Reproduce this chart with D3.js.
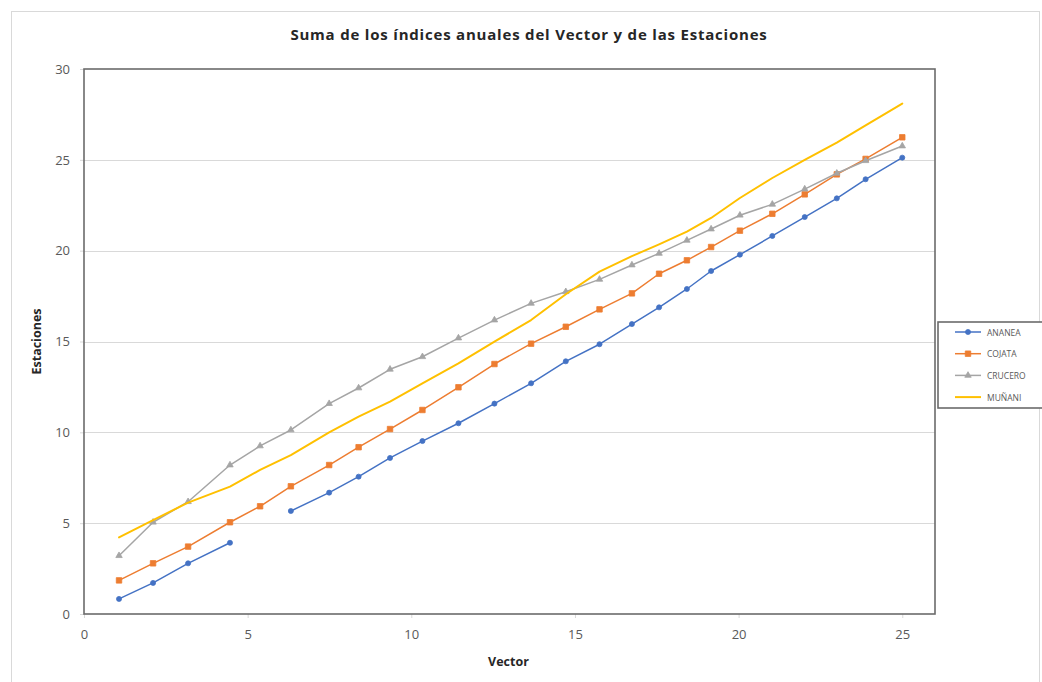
<!DOCTYPE html>
<html>
<head>
<meta charset="utf-8">
<script src="https://cdn.jsdelivr.net/npm/d3@7"></script>
<style>
  html, body { margin: 0; padding: 0; background: #ffffff; }
  svg { display: block; }
</style>
</head>
<body>
<svg id="chart" width="1042" height="682"></svg>
<script>
// ---- Data ----
const vector = [1.07, 2.11, 3.18, 4.46, 5.38, 6.32, 7.49, 8.39, 9.35, 10.34, 11.44, 12.54, 13.66,
                14.72, 15.75, 16.74, 17.57, 18.42, 19.16, 20.04, 21.03, 22.02, 23.00, 23.88, 25.00];
const ananea = [0.83, 1.71, 2.79, 3.92, null, 5.67, 6.68, 7.56, 8.59, 9.52, 10.50, 11.58, 12.70,
                13.91, 14.85, 15.96, 16.88, 17.89, 18.88, 19.78, 20.81, 21.85, 22.88, 23.93, 25.12];
const cojata = [1.85, 2.79, 3.71, 5.05, 5.93, 7.03, 8.20, 9.18, 10.18, 11.23, 12.48, 13.76, 14.88,
                15.81, 16.77, 17.65, 18.73, 19.47, 20.20, 21.10, 22.03, 23.10, 24.20, 25.05, 26.24];
const crucero = [3.21, 5.05, 6.18, 8.20, 9.25, 10.13, 11.58, 12.44, 13.47, 14.16, 15.19, 16.18, 17.10,
                 17.74, 18.42, 19.21, 19.85, 20.57, 21.19, 21.95, 22.55, 23.39, 24.26, 24.95, 25.76];
const munani = [4.22, 5.17, 6.13, 7.01, 7.93, 8.75, 10.00, 10.86, 11.69, 12.70, 13.80, 14.99, 16.18,
                17.60, 18.85, 19.70, 20.35, 21.05, 21.80, 22.90, 24.00, 25.00, 25.95, 26.90, 28.10];
const seriesNames = ["ANANEA", "COJATA", "CRUCERO", "MUÑANI"];
const xTicks = [0, 5, 10, 15, 20, 25];
const yTicks = [0, 5, 10, 15, 20, 25, 30];
const titleText = "Suma de los índices anuales del Vector y de las Estaciones";
const xTitle = "Vector";
const yTitle = "Estaciones";

// ---- Layout ----
const svg = d3.select("#chart");
const plot = { left: 84, top: 69, right: 935, bottom: 614 };
const FONT = "'Open Sans', 'DejaVu Sans', sans-serif";

const x = d3.scaleLinear().domain([0, 26]).range([plot.left, plot.right]);
const y = d3.scaleLinear().domain([0, 30]).range([plot.bottom, plot.top]);

const colors = { ANANEA: "#4472C4", COJATA: "#ED7D31", CRUCERO: "#A5A5A5", "MUÑANI": "#FFC000" };
const seriesData = [ananea, cojata, crucero, munani];

// outer chart border
svg.append("rect").attr("x", 11.5).attr("y", 11.5).attr("width", 1028).attr("height", 700)
  .attr("fill", "#ffffff").attr("stroke", "#d9d9d9").attr("stroke-width", 1);

// title
svg.append("text").attr("x", 529).attr("y", 40).attr("text-anchor", "middle")
  .attr("font-family", FONT).attr("font-weight", "bold").attr("font-size", 15)
  .attr("letter-spacing", 0.8).attr("fill", "#262626").text(titleText);

// gridlines
svg.append("g").selectAll("line").data(yTicks.filter(d => d > 0 && d < 30)).join("line")
  .attr("x1", plot.left).attr("x2", plot.right)
  .attr("y1", d => Math.round(y(d)) + 0.5).attr("y2", d => Math.round(y(d)) + 0.5)
  .attr("stroke", "#d9d9d9").attr("stroke-width", 1);

// axes
const yAxis = d3.axisLeft(y).tickValues(yTicks).tickSize(4).tickPadding(10);
const xAxis = d3.axisBottom(x).tickValues(xTicks).tickSize(4).tickPadding(12);

const gy = svg.append("g").attr("transform", `translate(${plot.left},0)`).call(yAxis);
const gx = svg.append("g").attr("transform", `translate(0,${plot.bottom})`).call(xAxis);
[gx, gy].forEach(g => {
  g.select(".domain").remove();
  g.selectAll(".tick line").attr("stroke", "#d9d9d9");
  g.selectAll(".tick text").attr("font-family", FONT).attr("font-size", 13).attr("fill", "#595959");
});

// plot area border
svg.append("rect").attr("x", plot.left).attr("y", plot.top)
  .attr("width", plot.right - plot.left).attr("height", plot.bottom - plot.top)
  .attr("fill", "none").attr("stroke", "#6b6b6b").attr("stroke-width", 1.6);

// axis titles
svg.append("text").attr("x", (plot.left + plot.right) / 2 - 1).attr("y", 666)
  .attr("text-anchor", "middle").attr("font-family", FONT).attr("font-weight", "bold")
  .attr("font-size", 12.5).attr("fill", "#262626").text(xTitle);
svg.append("text").attr("transform", `translate(41,${(plot.top + plot.bottom) / 2}) rotate(-90)`)
  .attr("text-anchor", "middle").attr("font-family", FONT).attr("font-weight", "bold")
  .attr("font-size", 12.5).attr("fill", "#262626").text(yTitle);

// lines
const pointsOf = vals => vector.map((v, i) => ({ x: v, y: vals[i] }));
const line = d3.line().defined(d => d.y !== null).x(d => x(d.x)).y(d => y(d.y));

const symbols = {
  ANANEA: d3.symbol().type(d3.symbolCircle).size(20),
  COJATA: d3.symbol().type(d3.symbolSquare).size(30),
  CRUCERO: d3.symbol().type(d3.symbolTriangle).size(18),
};

seriesNames.forEach((name, k) => {
  const pts = pointsOf(seriesData[k]);
  const g = svg.append("g");
  g.append("path").datum(pts).attr("d", line).attr("fill", "none")
    .attr("stroke", colors[name]).attr("stroke-width", name === "MUÑANI" ? 2 : 1.5)
    .attr("stroke-linejoin", "round").attr("stroke-linecap", "round");
  if (symbols[name]) {
    g.selectAll("path.m").data(pts.filter(d => d.y !== null)).join("path").attr("class", "m")
      .attr("d", symbols[name]).attr("transform", d => `translate(${x(d.x)},${y(d.y)})`)
      .attr("fill", colors[name]).attr("stroke", colors[name]).attr("stroke-width", 0.8);
  }
});

// legend
const leg = svg.append("g");
leg.append("rect").attr("x", 938).attr("y", 322).attr("width", 120).attr("height", 86)
  .attr("fill", "#ffffff").attr("stroke", "#6b6b6b").attr("stroke-width", 1.6);
seriesNames.forEach((name, i) => {
  const yy = 332 + i * 21.7;
  leg.append("line").attr("x1", 955).attr("x2", 981).attr("y1", yy).attr("y2", yy)
    .attr("stroke", colors[name]).attr("stroke-width", name === "MUÑANI" ? 2 : 1.5);
  if (symbols[name]) {
    leg.append("path").attr("d", symbols[name]).attr("transform", `translate(968,${yy})`)
      .attr("fill", colors[name]).attr("stroke", colors[name]).attr("stroke-width", 0.8);
  }
  leg.append("text").attr("x", 987).attr("y", yy + 3.5).attr("font-family", FONT)
    .attr("font-size", 8.5).attr("fill", "#595959").text(name);
});
</script>
</body>
</html>
